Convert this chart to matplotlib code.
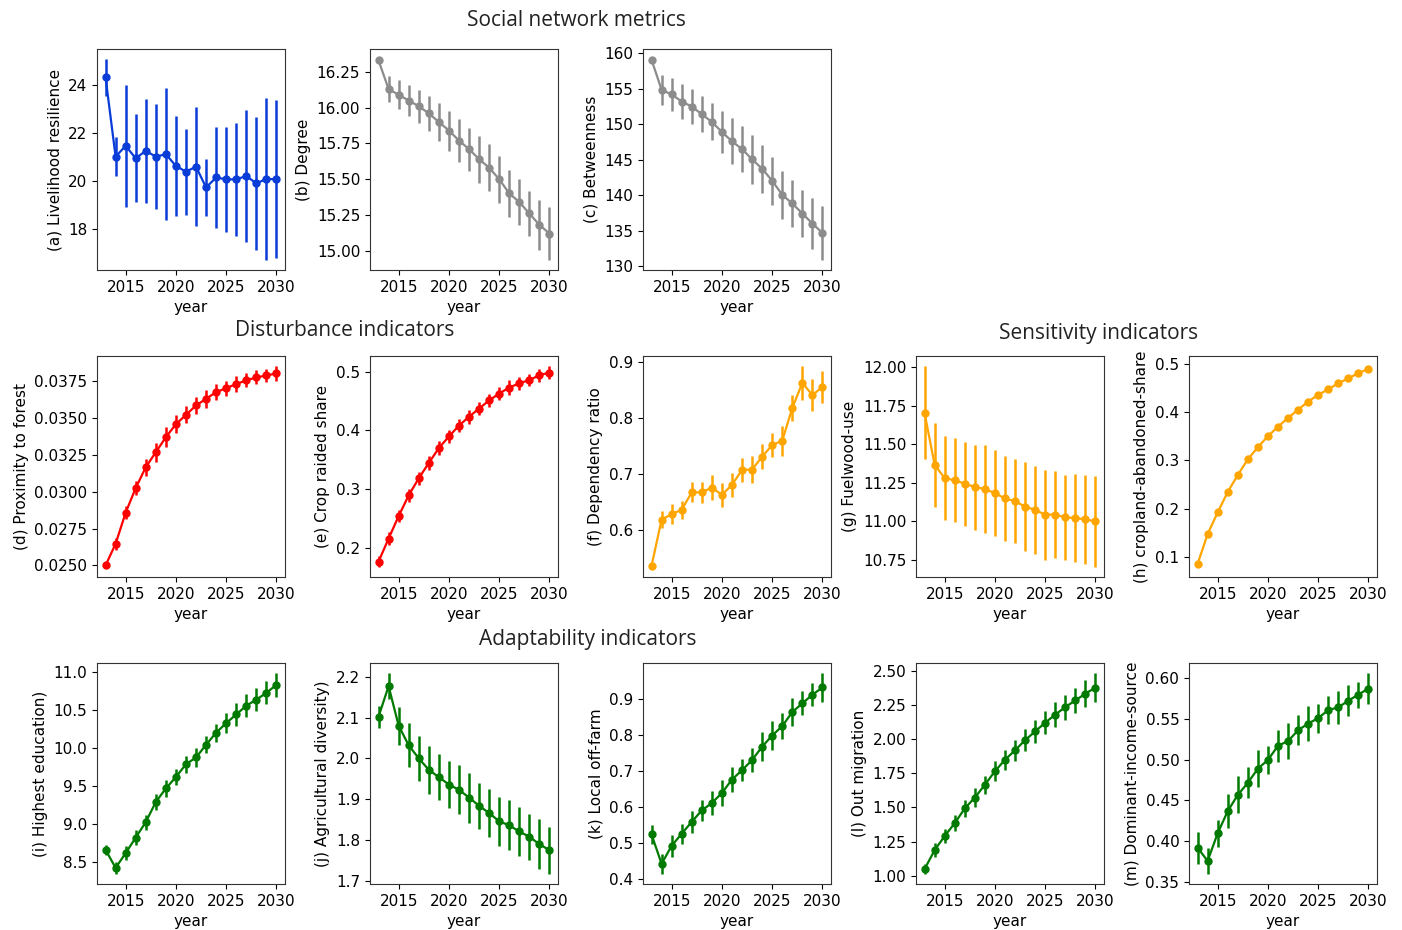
import matplotlib
matplotlib.use("Agg")
import matplotlib.pyplot as plt
import numpy as np

years = np.arange(2013, 2031)

# (a) livelihood resilience
resilience = [24.32, 21.01, 21.46, 20.94, 21.25, 21.01, 21.11, 20.62, 20.38,
              20.59, 19.72, 20.14, 20.06, 20.06, 20.20, 19.89, 20.08, 20.06]
resilience_err = [0.77, 0.83, 2.55, 1.84, 2.19, 2.20, 2.76, 2.10, 1.80,
                  2.50, 1.20, 2.10, 2.20, 2.37, 2.77, 2.78, 3.39, 3.30]

# (b) degree
degree = [16.33, 16.13, 16.09, 16.05, 16.01, 15.96, 15.90, 15.84, 15.77,
          15.71, 15.64, 15.58, 15.50, 15.40, 15.34, 15.26, 15.18, 15.12]
degree_err = [0.01, 0.09, 0.10, 0.11, 0.115, 0.12, 0.13, 0.14, 0.15,
              0.15, 0.165, 0.165, 0.165, 0.165, 0.16, 0.16, 0.175, 0.185]

# (c) betweenness
betweenness = [159.05, 154.82, 154.17, 153.18, 152.47, 151.39, 150.30, 148.90, 147.58,
               146.50, 145.04, 143.73, 142.04, 140.06, 138.84, 137.43, 136.02, 134.70]
betweenness_err = [0.1, 2.07, 2.26, 2.45, 2.40, 2.55, 2.60, 3.00, 3.24,
                   3.20, 3.50, 3.35, 3.35, 3.35, 3.30, 3.30, 3.60, 3.80]

# (d) proximity to forest
proximity = [0.0250, 0.02647, 0.02858, 0.03025, 0.03166, 0.03268, 0.0337, 0.03458, 0.03521,
             0.03585, 0.0363, 0.03675, 0.03702, 0.0373, 0.03755, 0.03775, 0.03788, 0.03802]
proximity_err = [0.0001, 0.0004, 0.00043, 0.00048, 0.00057, 0.00065, 0.00066, 0.00063, 0.00057,
                 0.0006, 0.0006, 0.00052, 0.0005, 0.00052, 0.00048, 0.00048, 0.00045, 0.0005]

# (e) crop raided share
crop_raided = [0.1775, 0.2167, 0.2548, 0.2900, 0.3189, 0.3448, 0.3702, 0.3898, 0.4083,
               0.4233, 0.4372, 0.4510, 0.4626, 0.4729, 0.4799, 0.4856, 0.4937, 0.4983]
crop_raided_err = [0.009, 0.0104, 0.0104, 0.011, 0.011, 0.0115, 0.0115, 0.0115, 0.0104,
                   0.0115, 0.0115, 0.0115, 0.0104, 0.0127, 0.0104, 0.0104, 0.011, 0.011]

# (f) dependency ratio
dependency = [0.5364, 0.6188, 0.6285, 0.6364, 0.6673, 0.6673, 0.6758, 0.6630, 0.6806,
              0.7073, 0.7079, 0.7309, 0.7515, 0.7594, 0.8176, 0.8624, 0.8406, 0.8552]
dependency_err = [0.002, 0.0145, 0.018, 0.016, 0.0176, 0.019, 0.022, 0.021, 0.022,
                  0.022, 0.024, 0.022, 0.022, 0.027, 0.024, 0.030, 0.028, 0.028]

# (g) fuelwood use
fuelwood = [11.704, 11.366, 11.279, 11.265, 11.243, 11.221, 11.208, 11.182, 11.147,
            11.129, 11.094, 11.072, 11.042, 11.042, 11.024, 11.020, 11.011, 10.998]
fuelwood_err = [0.303, 0.272, 0.272, 0.274, 0.273, 0.276, 0.283, 0.281, 0.274,
                0.274, 0.289, 0.283, 0.292, 0.285, 0.278, 0.283, 0.289, 0.296]

# (h) cropland abandoned share
abandoned = [0.0845, 0.1466, 0.1919, 0.2343, 0.2696, 0.3021, 0.3276, 0.3502, 0.3700,
             0.3883, 0.4053, 0.4223, 0.4364, 0.4477, 0.4604, 0.4703, 0.4816, 0.4901]
abandoned_err = [0.006] * 18

# (i) highest education
education = [8.660, 8.420, 8.615, 8.820, 9.024, 9.290, 9.468, 9.620, 9.788,
             9.877, 10.045, 10.205, 10.330, 10.445, 10.560, 10.640, 10.730, 10.836]
education_err = [0.067, 0.08, 0.093, 0.098, 0.10, 0.10, 0.107, 0.10, 0.115,
                 0.13, 0.11, 0.12, 0.13, 0.147, 0.15, 0.15, 0.15, 0.155]

# (j) agricultural diversity
agri_div = [2.102, 2.177, 2.080, 2.032, 2.000, 1.972, 1.954, 1.936, 1.923,
            1.904, 1.884, 1.866, 1.846, 1.836, 1.821, 1.808, 1.790, 1.775]
agri_div_err = [0.027, 0.032, 0.047, 0.054, 0.056, 0.059, 0.057, 0.057, 0.060,
                0.061, 0.056, 0.058, 0.060, 0.061, 0.060, 0.056, 0.061, 0.058]

# (k) local off-farm
off_farm = [0.524, 0.4426, 0.4926, 0.526, 0.559, 0.5907, 0.611, 0.639, 0.676,
            0.702, 0.730, 0.767, 0.798, 0.824, 0.863, 0.887, 0.911, 0.931]
off_farm_err = [0.027, 0.028, 0.030, 0.028, 0.030, 0.030, 0.034, 0.036, 0.035,
                0.031, 0.033, 0.040, 0.040, 0.036, 0.038, 0.033, 0.032, 0.040]

# (l) out migration
migration = [1.049, 1.1875, 1.291, 1.385, 1.493, 1.572, 1.666, 1.765, 1.849,
             1.918, 1.992, 2.056, 2.120, 2.179, 2.234, 2.283, 2.332, 2.377]
migration_err = [0.035, 0.05, 0.054, 0.057, 0.059, 0.069, 0.064, 0.074, 0.074,
                 0.076, 0.081, 0.084, 0.086, 0.089, 0.091, 0.094, 0.099, 0.106]

# (m) dominant income source
income = [0.3920, 0.3757, 0.4096, 0.4369, 0.4568, 0.4717, 0.4891, 0.4998, 0.5172,
          0.5230, 0.5363, 0.5445, 0.5512, 0.5611, 0.5644, 0.5727, 0.5801, 0.5876]
income_err = [0.0195, 0.016, 0.0166, 0.0207, 0.0228, 0.019, 0.0228, 0.0174, 0.0195,
              0.0224, 0.0182, 0.0211, 0.0178, 0.0174, 0.0203, 0.0186, 0.0161, 0.019]

BLUE = "#0a3cd8"
GREY = "#8c8c8c"
RED = "#ff0000"
ORANGE = "#ffa500"
GREEN = "#007a00"

# (row, col, values, errors, label, colour)
panels = [
    (0, 0, resilience, resilience_err, "(a) Livelihood resilience", BLUE),
    (0, 1, degree, degree_err, "(b) Degree", GREY),
    (0, 2, betweenness, betweenness_err, "(c) Betweenness", GREY),
    (1, 0, proximity, proximity_err, "(d) Proximity to forest", RED),
    (1, 1, crop_raided, crop_raided_err, "(e) Crop raided share", RED),
    (1, 2, dependency, dependency_err, "(f) Dependency ratio", ORANGE),
    (1, 3, fuelwood, fuelwood_err, "(g) Fuelwood-use", ORANGE),
    (1, 4, abandoned, abandoned_err, "(h) cropland-abandoned-share", ORANGE),
    (2, 0, education, education_err, "(i) Highest education)", GREEN),
    (2, 1, agri_div, agri_div_err, "(j) Agricultural diversity)", GREEN),
    (2, 2, off_farm, off_farm_err, "(k) Local off-farm", GREEN),
    (2, 3, migration, migration_err, "(l) Out migration", GREEN),
    (2, 4, income, income_err, "(m) Dominant-income-source", GREEN),
]

W, H = 1402, 930
col_left = [97, 370, 643, 916, 1189]
row_top = [49, 356, 663]
ax_w, ax_h = 188, 221

plt.rcParams["font.size"] = 11
fig = plt.figure(figsize=(W / 100, H / 100), dpi=100)

for row, col, vals, errs, label, colour in panels:
    ax = fig.add_axes([col_left[col] / W, 1 - (row_top[row] + ax_h) / H, ax_w / W, ax_h / H])
    ax.errorbar(years, vals, yerr=errs, color=colour, marker="o", markersize=5,
                linewidth=1.6, elinewidth=1.8, capsize=0)
    ax.set_xticks([2015, 2020, 2025, 2030])
    ax.set_xlabel("year", fontsize=11)
    ax.set_ylabel(label, fontsize=11)
    ax.tick_params(labelsize=11)
    for s in ax.spines.values():
        s.set_color("#333333")

title_font = dict(fontsize=15, family="Open Sans", color="#222222", ha="center", va="center")
fig.text(576 / W, 1 - 20 / H, "Social network metrics", **title_font)
fig.text(345 / W, 1 - 330 / H, "Disturbance indicators", **title_font)
fig.text(1099 / W, 1 - 333 / H, "Sensitivity indicators", **title_font)
fig.text(588 / W, 1 - 639 / H, "Adaptability indicators", **title_font)

fig.savefig("out.png", dpi=100)
